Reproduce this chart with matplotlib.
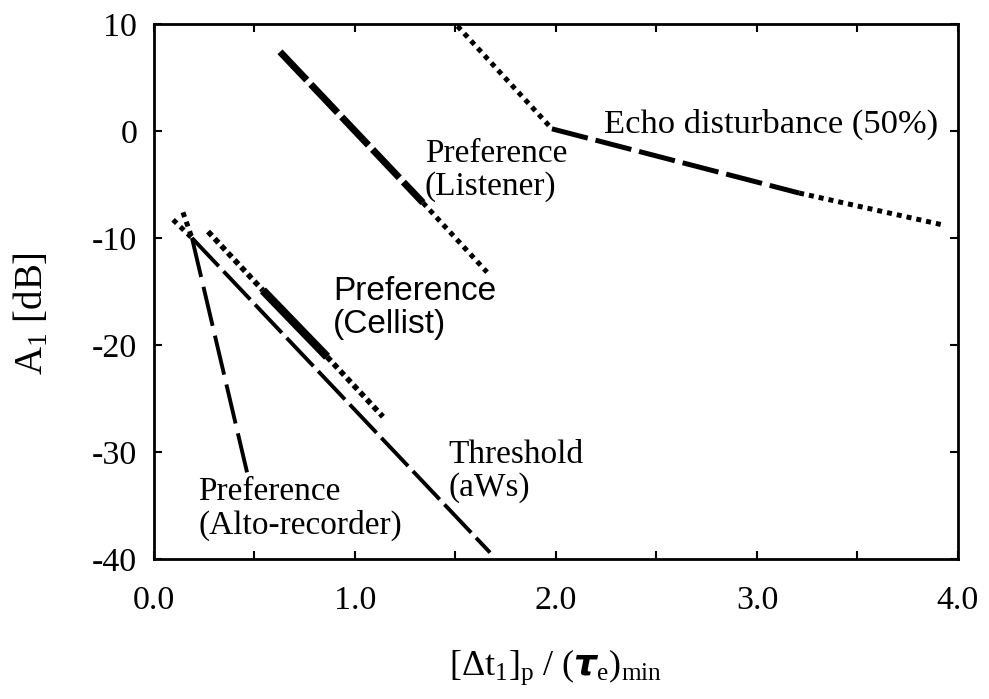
import matplotlib
matplotlib.use("Agg")
import matplotlib.pyplot as plt
from matplotlib.ticker import MultipleLocator

plt.rcParams['font.family'] = ['Liberation Serif', 'DejaVu Serif']
plt.rcParams['mathtext.fontset'] = 'custom'
plt.rcParams['mathtext.rm'] = 'Liberation Serif'
plt.rcParams['mathtext.it'] = 'Liberation Serif:italic'
plt.rcParams['mathtext.bf'] = 'Liberation Serif:bold'
plt.rcParams['axes.unicode_minus'] = False

# break points of each curve; each curve is drawn segment by segment
echo_x = [1.51, 1.98, 3.21, 3.93]
echo_y = [9.8, 0.2, -5.8, -8.8]

listener_x = [0.627, 1.338, 1.657]
listener_y = [7.4, -6.7, -13.2]

cellist_x = [0.269, 0.542, 0.861, 1.139]
cellist_y = [-9.4, -14.9, -21.1, -26.7]

threshold_x = [0.095, 0.189, 1.672]
threshold_y = [-8.3, -10.0, -39.4]

alto_x = [0.144, 0.189, 0.463]
alto_y = [-7.6, -10.0, -31.9]

x_ticks = [0.0, 1.0, 2.0, 3.0, 4.0]
x_ticklabels = ['0.0', '1.0', '2.0', '3.0', '4.0']
y_ticks = [10, 0, -10, -20, -30, -40]
y_ticklabels = ['10', '0', '-10', '-20', '-30', '-40']

# line styles
dotted = dict(lw=3.6, ls=(0, (1, 1)), dash_capstyle='butt')
dotted_bold = dict(lw=4.0, ls=(0, (1, 0.75)), dash_capstyle='butt')
heavy_dash = dict(lw=5.0, ls=(0, (5.6, 0.86)), dash_capstyle='butt')
echo_dash = dict(lw=3.6, ls=(0, (7.4, 1.6)), dash_capstyle='butt')
thin_dash = dict(lw=2.8, ls=(0, (10, 1.8)), dash_capstyle='butt')
alto_dash = dict(lw=2.8, ls=(0, (10.3, 2.6)), dash_capstyle='butt')
heavy_solid = dict(lw=6.0, ls='-', solid_capstyle='butt')

curves = [
    (echo_x, echo_y, [dotted, echo_dash, dotted]),
    (listener_x, listener_y, [heavy_dash, dotted]),
    (cellist_x, cellist_y, [dotted_bold, heavy_solid, dotted_bold]),
    (threshold_x, threshold_y, [dotted, thin_dash]),
    (alto_x, alto_y, [dotted, alto_dash]),
]

fig = plt.figure(figsize=(9.89, 6.99), dpi=100)
ax = fig.add_axes([0.1557, 0.2003, 0.8129, 0.7654])

for xs, ys, styles in curves:
    for i, st in enumerate(styles):
        ax.plot(xs[i:i + 2], ys[i:i + 2], color='black', **st)

# curve labels, one text per line
def label(x, y, lines, family='Liberation Serif', size=24, step=3.1):
    for k, s in enumerate(lines):
        ax.text(x, y - k * step, s, fontsize=size, family=family,
                ha='left', va='baseline')

label(1.348, -2.9, ['Preference', '(Listener)'])
label(0.89, -15.8, ['Preference', '(Cellist)'], family='Liberation Sans')
label(1.463, -31.0, ['Threshold', '(aWs)'])
label(0.219, -34.5, ['Preference', '(Alto-recorder)'])
label(2.24, -0.2, ['Echo disturbance (50%)'], size=24.8)

ax.set_xlim(0, 4)
ax.set_ylim(-40, 10)
ax.set_xticks(x_ticks)
ax.set_xticklabels(x_ticklabels)
ax.xaxis.set_minor_locator(MultipleLocator(0.5))
ax.set_yticks(y_ticks)
ax.set_yticklabels(y_ticklabels)

ax.tick_params(which='both', direction='in', top=True, right=True,
               length=6, width=1.5, labelsize=24.5)
ax.tick_params(axis='x', pad=19)
ax.tick_params(axis='y', pad=12)
for sp in ax.spines.values():
    sp.set_linewidth(2)

ax.set_xlabel(r'$[\Delta\mathrm{t}_1]_\mathrm{p}\ /\ (\boldsymbol{\tau}_\mathrm{e})_\mathrm{min}$',
              fontsize=26)
ax.set_ylabel(r'A$_1$ [dB]', fontsize=28)
ax.xaxis.set_label_coords(0.5, -0.166)
ax.yaxis.set_label_coords(-0.128, 0.458)

fig.savefig('out.png', dpi=100)
